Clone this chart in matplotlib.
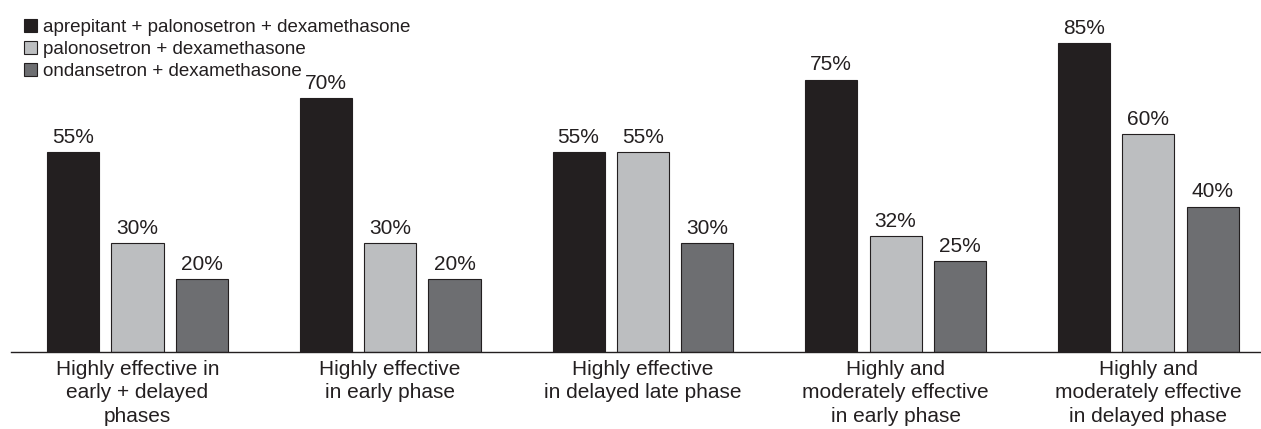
import numpy as np
import matplotlib.pyplot as plt
from matplotlib.patches import Patch

plt.rcParams['font.family'] = ['Liberation Sans', 'DejaVu Sans']

categories = [
    "Highly effective in\nearly + delayed\nphases",
    "Highly effective\nin early phase",
    "Highly effective\nin delayed late phase",
    "Highly and\nmoderately effective\nin early phase",
    "Highly and\nmoderately effective\nin delayed phase",
]
series_names = [
    "aprepitant + palonosetron + dexamethasone",
    "palonosetron + dexamethasone",
    "ondansetron + dexamethasone",
]
apd = [55, 70, 55, 75, 85]
pd_ = [30, 30, 55, 32, 60]
od = [20, 20, 30, 25, 40]
colors = ["#231f20", "#bcbec0", "#6d6e71"]
ink = "#231f20"

fig = plt.figure(figsize=(12.61, 4.29), dpi=100)
ax = fig.add_axes([0, 0.180, 1, 0.820])

x = np.arange(len(categories))
offsets = [-0.2545, 0, 0.2545]
width = 0.206

for vals, off, col in zip([apd, pd_, od], offsets, colors):
    bars = ax.bar(x + off, vals, width, color=col, edgecolor=ink, linewidth=0.8)
    for b, v in zip(bars, vals):
        ax.text(b.get_x() + b.get_width() / 2, v + 1.4, f"{v}%",
                ha="center", va="bottom", fontsize=15, color=ink)

ax.set_xlim(-0.544, 4.446)
ax.set_ylim(0, 96.9)
for s in ["top", "right", "left"]:
    ax.spines[s].set_visible(False)
ax.spines["bottom"].set_linewidth(1.0)
ax.spines["bottom"].set_color(ink)
ax.spines["bottom"].set_bounds(-0.5, 4.446)
ax.set_yticks([])
ax.set_xticks(x)
ax.set_xticklabels(categories, fontsize=15, color=ink, linespacing=1.28)
ax.tick_params(axis="x", length=0, pad=6)

handles = [Patch(facecolor=c, edgecolor=ink, linewidth=0.8) for c in colors]
fig.legend(handles, series_names, loc="upper left", bbox_to_anchor=(0.019, 0.956),
           frameon=False, fontsize=13.5, handlelength=0.7, handleheight=0.7,
           handletextpad=0.3, labelspacing=0.256, borderaxespad=0, borderpad=0,
           labelcolor=ink)

fig.savefig("out.png", dpi=100)
